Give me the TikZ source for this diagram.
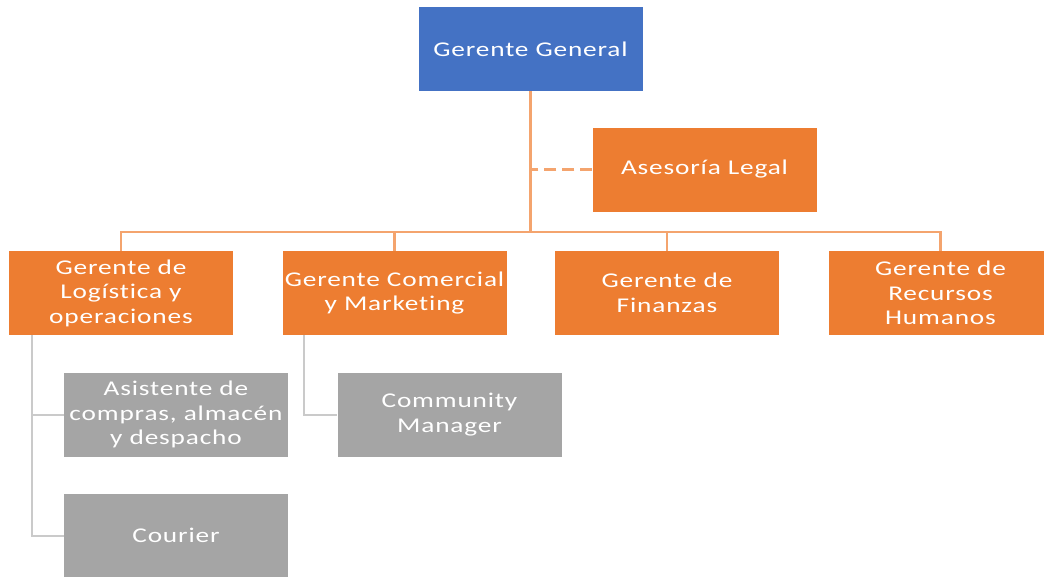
\documentclass[tikz,border=0pt]{standalone}
\usepackage{fontspec}
\setmainfont{Carlito}[FakeStretch=1.3,LetterSpace=4,Ligatures=NoCommon]
\usetikzlibrary{positioning}
\definecolor{ggblue}{HTML}{4472C4}
\definecolor{mgrorange}{HTML}{ED7D31}
\definecolor{staffgrey}{HTML}{A5A5A5}
\definecolor{busorange}{HTML}{F4A46E}
\definecolor{busgrey}{HTML}{CACACA}
\tikzset{
  unit/.style={minimum width=224pt,minimum height=84pt,inner sep=2pt,align=center,
    text=white,font=\fontsize{21}{24.5}\selectfont},
  topbox/.style={unit,fill=ggblue},
  mgrbox/.style={unit,fill=mgrorange},
  staffbox/.style={unit,fill=staffgrey},
  orgline/.style={draw=busorange,line width=2.2pt},
  subline/.style={draw=busgrey,line width=2pt}
}

\begin{document}
\begin{tikzpicture}[x=1pt,y=-1pt]
  \clip (0,0) rectangle (1044,576);
  \fill[white] (0,0) rectangle (1044,576);

  \node[topbox] (gg) at (530.5,49) {Gerente General};
  \node[mgrbox] (legal) at (704.5,169.5) {Asesoría Legal};

  \node[mgrbox] (logis) at (121,293) {Gerente de\\Logística y\\operaciones};
  \node[mgrbox] (comer) at (394.5,293) {Gerente Comercial\\y Marketing};
  \node[mgrbox] (fin) at (667,293) {Gerente de\\Finanzas};
  \node[mgrbox] (rrhh) at (940.5,293) {Gerente de\\Recursos\\Humanos};

  \node[staffbox] (asis) at (176,414.5) {Asistente de\\compras, almacén\\y despacho};
  \node[staffbox] (cour) at (176,535.5) {Courier};
  \node[staffbox] (cm) at (449.5,414.5) {Community\\Manager};

  \coordinate (bus) at (530.5,232);

  \draw[orgline] (gg) -- (bus);
  \draw[orgline] (logis.north) |- (bus) -| (rrhh.north);
  \draw[orgline] (comer.north) -- (comer.north |- bus);
  \draw[orgline] (fin.north) -- (fin.north |- bus);
  \draw[orgline,dash pattern=on 12pt off 6pt] (legal.west) -- (legal.west -| gg);

  \draw[subline] ([xshift=23pt]logis.south west) |- (cour.west);
  \draw[subline] ([xshift=23pt]logis.south west |- asis.west) -- (asis.west);
  \draw[subline] ([xshift=22pt]comer.south west) |- (cm.west);
\end{tikzpicture}
\end{document}
